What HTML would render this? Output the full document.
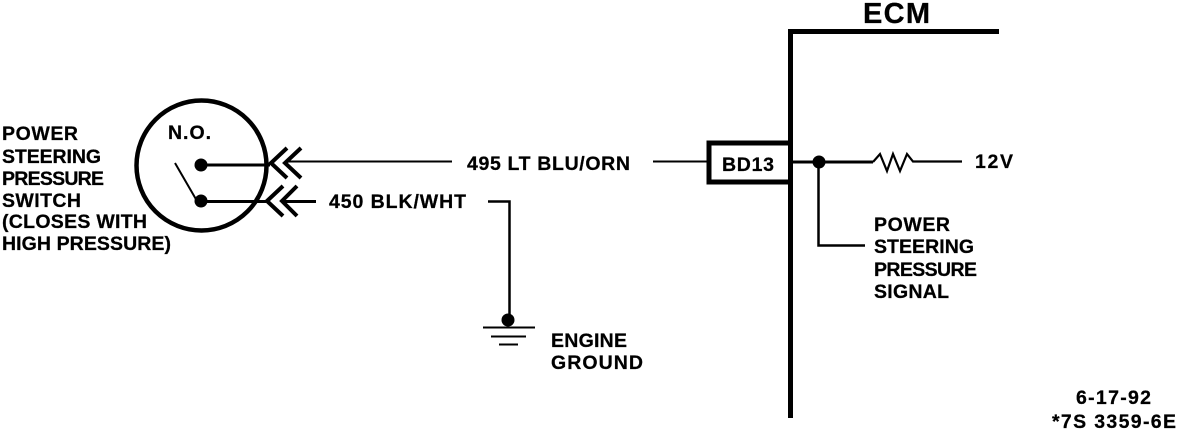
<!DOCTYPE html>
<html><head><meta charset="utf-8"><style>
html,body{margin:0;padding:0;background:#fff;width:1200px;height:432px;overflow:hidden}
svg{display:block}
text{font-family:"Liberation Sans",sans-serif;font-weight:bold;font-size:19.5px;fill:#000;stroke:#000;stroke-width:.25px}
</style></head><body>
<svg width="1200" height="432" viewBox="0 0 1200 432" xmlns="http://www.w3.org/2000/svg">
<rect width="1200" height="432" fill="#fff"/>
<g fill="none" stroke="#000">
<circle cx="201.5" cy="165.5" r="65" stroke-width="4.5"/>
<path d="M201 165H270" stroke-width="3"/>
<path d="M201 201.500H266" stroke-width="3"/>
<path d="M175 163L197 201" stroke-width="2"/>
<path d="M287 148L271 163L287 178M301 148L285 163L301 178" stroke-width="4"/>
<path d="M283 186L267 201L283 216M297 186L282 201L297 216" stroke-width="4"/>
<path d="M285 161.500H452" stroke-width="2"/>
<path d="M283 201.500H316" stroke-width="3"/>
<path d="M653 161.500H708" stroke-width="2"/>
<path d="M488 201.500H509.500V320" stroke-width="2.500"/>
<path d="M483 327.500H535" stroke-width="2"/>
<path d="M491 336.500H526" stroke-width="2"/>
<path d="M499 344.500H518" stroke-width="2"/>
<path d="M790.500 418V31.500H999" stroke-width="5"/>
<path d="M789 143H709V182H789" stroke-width="5"/>
<path d="M793 162H873" stroke-width="3"/>
<path d="M873 162L880 154L887 171L893 154L900 171L907 154L913 161.500H962" stroke-width="2.200"/>
<path d="M818.500 162V245.500H865" stroke-width="2.500"/>
</g>
<g fill="#000">
<circle cx="201" cy="165" r="6.500"/>
<circle cx="201" cy="201" r="6.500"/>
<circle cx="508" cy="320" r="6.500"/>
<circle cx="819" cy="162" r="6.500"/>
</g>
<text x="2" y="140" textLength="76" lengthAdjust="spacing">POWER</text>
<text x="2" y="163" textLength="99" lengthAdjust="spacing">STEERING</text>
<text x="2" y="185" textLength="102" lengthAdjust="spacing">PRESSURE</text>
<text x="2" y="207" textLength="79" lengthAdjust="spacing">SWITCH</text>
<text x="2" y="228" textLength="145" lengthAdjust="spacing">(CLOSES WITH</text>
<text x="2" y="250" textLength="169" lengthAdjust="spacing">HIGH PRESSURE)</text>
<text x="168" y="139" textLength="43" lengthAdjust="spacing">N.O.</text>
<text x="467" y="170" textLength="163" lengthAdjust="spacing">495 LT BLU/ORN</text>
<text x="329" y="208" textLength="137" lengthAdjust="spacing">450 BLK/WHT</text>
<text x="722" y="171" textLength="52" lengthAdjust="spacing">BD13</text>
<text x="975" y="168" textLength="38" lengthAdjust="spacing">12V</text>
<text x="863" y="23" textLength="67" lengthAdjust="spacing" style="font-size:29px">ECM</text>
<text x="874" y="231" textLength="76" lengthAdjust="spacing">POWER</text>
<text x="874" y="253" textLength="100" lengthAdjust="spacing">STEERING</text>
<text x="874" y="276" textLength="103" lengthAdjust="spacing">PRESSURE</text>
<text x="874" y="298" textLength="75" lengthAdjust="spacing">SIGNAL</text>
<text x="551" y="347" textLength="76" lengthAdjust="spacing">ENGINE</text>
<text x="551" y="369" textLength="92" lengthAdjust="spacing">GROUND</text>
<text x="1076" y="404" textLength="75" lengthAdjust="spacing">6-17-92</text>
<text x="1052" y="428" textLength="124" lengthAdjust="spacing">*7S 3359-6E</text>
</svg>
</body></html>
